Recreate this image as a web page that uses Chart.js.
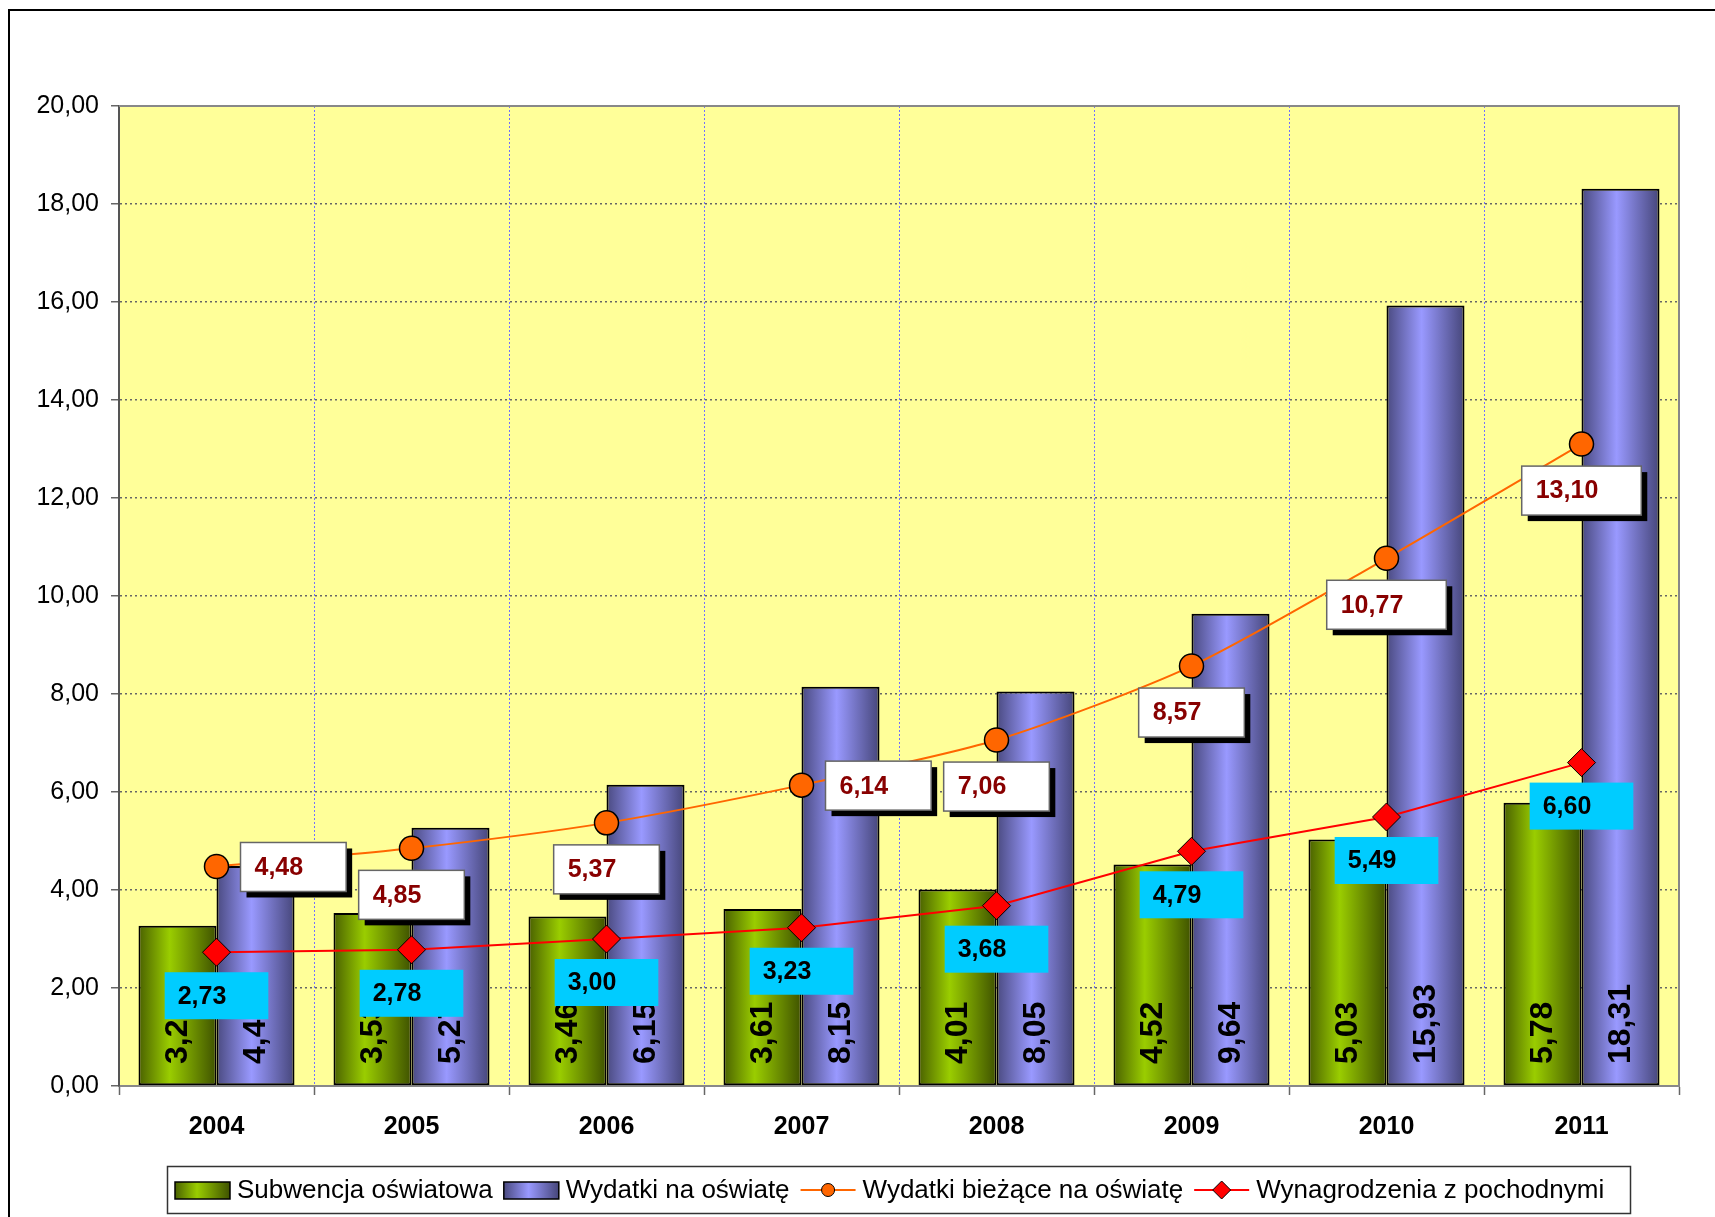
<!DOCTYPE html>
<html>
<head>
<meta charset="utf-8">
<script src="https://cdn.jsdelivr.net/npm/chart.js@4"></script>
<style>
  body { margin: 0; background: #fff; }
  canvas { display: block; }
</style>
</head>
<body>
<canvas id="chart" width="1715" height="1217"></canvas>
<script>
// Data
const years = ['2004', '2005', '2006', '2007', '2008', '2009', '2010', '2011'];
const subwencja = [3.27, 3.53, 3.46, 3.61, 4.01, 4.52, 5.03, 5.78];
const wydatki = [4.49, 5.27, 6.15, 8.15, 8.05, 9.64, 15.93, 18.31];
const wydatkiBiezace = [4.48, 4.85, 5.37, 6.14, 7.06, 8.57, 10.77, 13.10];
const wynagrodzenia = [2.73, 2.78, 3.00, 3.23, 3.68, 4.79, 5.49, 6.60];
const yTickValues = [0, 2, 4, 6, 8, 10, 12, 14, 16, 18, 20];
const seriesNames = ['Subwencja oświatowa', 'Wydatki na oświatę', 'Wydatki bieżące na oświatę', 'Wynagrodzenia z pochodnymi'];

// where the white label box sits relative to its point
const biezaceLabelSide = ['right', 'below', 'below', 'right', 'below', 'below', 'below', 'below'];

const FONT = '"Liberation Sans", Arial, sans-serif';
const greenStops = [[0, '#4a6100'], [0.4, '#9acd00'], [1, '#3f5200']];
const blueStops = [[0, '#4a4a80'], [0.45, '#9999ff'], [1, '#46467a']];

const fmt = v => v.toFixed(2).replace('.', ',');

function hGradient(ctx, x0, x1, stops) {
    const g = ctx.createLinearGradient(x0, 0, x1, 0);
    stops.forEach(s => g.addColorStop(s[0], s[1]));
    return g;
}

// Background, frame, plot area
const backgroundPlugin = {
    id: 'background',
    beforeDraw(chart) {
        const { ctx, chartArea } = chart;
        ctx.save();
        ctx.fillStyle = '#fff';
        ctx.fillRect(0, 0, chart.width, chart.height);
        ctx.strokeStyle = '#000';
        ctx.lineWidth = 2;
        ctx.strokeRect(9, 10, 1800, 1400);
        ctx.fillStyle = '#ffff99';
        ctx.fillRect(chartArea.left, chartArea.top, chartArea.right - chartArea.left, chartArea.bottom - chartArea.top);
        ctx.restore();
    },
    beforeDatasetsDraw(chart) {
        const { ctx, chartArea } = chart;
        ctx.save();
        ctx.strokeStyle = '#888';
        ctx.lineWidth = 2;
        ctx.beginPath();
        ctx.moveTo(chartArea.left, chartArea.top);
        ctx.lineTo(chartArea.right, chartArea.top);
        ctx.lineTo(chartArea.right, chartArea.bottom);
        ctx.stroke();
        ctx.restore();
    }
};

// Cylinder-like shading of bars
const barShadePlugin = {
    id: 'barShade',
    beforeDatasetDraw(chart, args) {
        if (args.index > 1) return;
        const stops = args.index === 0 ? greenStops : blueStops;
        args.meta.data.forEach(bar => {
            const half = bar.width / 2;
            bar.options = Object.assign({}, bar.options, {
                backgroundColor: hGradient(chart.ctx, bar.x - half, bar.x + half, stops)
            });
        });
    }
};

// Data labels
const labelsPlugin = {
    id: 'valueLabels',
    afterDatasetsDraw(chart) {
        const ctx = chart.ctx;
        const base = chart.scales.y.getPixelForValue(0);
        ctx.save();
        ctx.textBaseline = 'middle';
        ctx.textAlign = 'left';

        // values inside bars, rotated
        ctx.font = 'bold 32px ' + FONT;
        ctx.fillStyle = '#000';
        [0, 1].forEach(di => {
            chart.getDatasetMeta(di).data.forEach((bar, i) => {
                ctx.save();
                ctx.translate(bar.x + 1, base - 22);
                ctx.rotate(-Math.PI / 2);
                ctx.fillText(fmt(chart.data.datasets[di].data[i]), 0, 0);
                ctx.restore();
            });
        });

        // white boxes with shadow for current expenditure
        ctx.font = 'bold 25px ' + FONT;
        chart.getDatasetMeta(2).data.forEach((pt, i) => {
            const text = fmt(wydatkiBiezace[i]);
            const w = ctx.measureText(text).width + 57;
            const h = 49;
            let bx, by;
            if (biezaceLabelSide[i] === 'right') {
                bx = pt.x + 24;
                by = pt.y - 24;
            } else {
                bx = pt.x - w / 2;
                by = pt.y + 22;
            }
            ctx.fillStyle = '#000';
            ctx.fillRect(bx + 6, by + 6, w, h);
            ctx.fillStyle = '#fff';
            ctx.fillRect(bx, by, w, h);
            ctx.strokeStyle = '#666';
            ctx.lineWidth = 1.5;
            ctx.strokeRect(bx, by, w, h);
            ctx.fillStyle = '#880000';
            ctx.fillText(text, bx + 14, by + h / 2 + 1);
        });

        // cyan boxes for salaries
        chart.getDatasetMeta(3).data.forEach((pt, i) => {
            const text = fmt(wynagrodzenia[i]);
            const w = ctx.measureText(text).width + 55;
            const h = 47;
            const bx = pt.x - w / 2;
            const by = pt.y + 20;
            ctx.fillStyle = '#00ccff';
            ctx.fillRect(bx, by, w, h);
            ctx.fillStyle = '#000';
            ctx.fillText(text, bx + 13, by + h / 2 + 1);
        });
        ctx.restore();
    }
};

// Legend in a framed box
const legendPlugin = {
    id: 'boxLegend',
    afterDraw(chart) {
        const ctx = chart.ctx;
        ctx.save();
        ctx.strokeStyle = '#333';
        ctx.lineWidth = 1.5;
        ctx.strokeRect(167.5, 1166.5, 1463, 47);
        const cy = 1190;
        ctx.font = '26px ' + FONT;
        ctx.textBaseline = 'middle';
        let x = 175;
        seriesNames.forEach((name, i) => {
            if (i < 2) {
                ctx.fillStyle = hGradient(ctx, x, x + 55, i === 0 ? greenStops : blueStops);
                ctx.fillRect(x, cy - 8, 55, 17);
                ctx.strokeStyle = '#000';
                ctx.lineWidth = 1.5;
                ctx.strokeRect(x, cy - 8, 55, 17);
            } else {
                const col = i === 2 ? '#ff6600' : '#ff0000';
                ctx.strokeStyle = col;
                ctx.lineWidth = 2;
                ctx.beginPath();
                ctx.moveTo(x, cy);
                ctx.lineTo(x + 55, cy);
                ctx.stroke();
                ctx.fillStyle = col;
                ctx.strokeStyle = '#000';
                ctx.lineWidth = 1;
                ctx.beginPath();
                if (i === 2) {
                    ctx.arc(x + 27.5, cy, 6.5, 0, Math.PI * 2);
                } else {
                    ctx.moveTo(x + 27.5, cy - 9);
                    ctx.lineTo(x + 36.5, cy);
                    ctx.lineTo(x + 27.5, cy + 9);
                    ctx.lineTo(x + 18.5, cy);
                    ctx.closePath();
                }
                ctx.fill();
                ctx.stroke();
            }
            ctx.fillStyle = '#000';
            ctx.fillText(name, x + 62, cy + 1);
            x += 62 + ctx.measureText(name).width + 11;
        });
        ctx.restore();
    }
};

Chart.defaults.font.family = FONT;

const chart = new Chart(document.getElementById('chart'), {
    type: 'bar',
    data: {
        labels: years,
        datasets: [{
            label: seriesNames[0],
            data: subwencja,
            backgroundColor: '#99cc00',
            borderColor: '#000',
            borderWidth: 2,
            borderSkipped: false,
            categoryPercentage: 0.8,
            barPercentage: 1.0,
            order: 2
        }, {
            label: seriesNames[1],
            data: wydatki,
            backgroundColor: '#9999ff',
            borderColor: '#000',
            borderWidth: 2,
            borderSkipped: false,
            categoryPercentage: 0.8,
            barPercentage: 1.0,
            order: 2
        }, {
            type: 'line',
            label: seriesNames[2],
            data: wydatkiBiezace,
            borderColor: '#ff6600',
            borderWidth: 2,
            tension: 0.25,
            pointRadius: 12,
            pointBackgroundColor: '#ff6600',
            pointBorderColor: '#000',
            pointBorderWidth: 1.5,
            order: 1
        }, {
            type: 'line',
            label: seriesNames[3],
            data: wynagrodzenia,
            borderColor: '#ff0000',
            borderWidth: 2,
            tension: 0,
            pointStyle: 'rectRot',
            pointRadius: 14,
            pointBackgroundColor: '#ff0000',
            pointBorderColor: '#000',
            pointBorderWidth: 1,
            order: 0
        }]
    },
    options: {
        responsive: false,
        animation: false,
        layout: {
            padding: { top: 106, right: 36, bottom: 81, left: 0 }
        },
        plugins: {
            legend: { display: false },
            tooltip: { enabled: false }
        },
        scales: {
            x: {
                grid: {
                    offset: true,
                    color: '#7070ff',
                    lineWidth: 1,
                    tickLength: 9,
                    tickColor: '#666',
                    tickWidth: 1.5,
                    tickBorderDash: []
                },
                border: { color: '#888', width: 2, dash: [2, 2] },
                ticks: {
                    color: '#000',
                    font: { size: 25, weight: 'bold' },
                    padding: 17,
                    maxRotation: 0
                },
                afterFit: scale => { scale.height = 50; }
            },
            y: {
                min: 0,
                max: 20,
                afterBuildTicks: scale => {
                    scale.ticks = yTickValues.map(v => ({ value: v }));
                },
                grid: {
                    color: '#666',
                    lineWidth: 1.5,
                    tickLength: 8,
                    tickColor: '#666',
                    tickWidth: 1.5,
                    tickBorderDash: []
                },
                border: { color: '#555', width: 2, dash: [2, 3] },
                ticks: {
                    color: '#000',
                    font: { size: 25 },
                    padding: 12,
                    callback: v => fmt(v)
                },
                afterFit: scale => { scale.width = 119; }
            }
        }
    },
    plugins: [backgroundPlugin, barShadePlugin, labelsPlugin, legendPlugin]
});
</script>
</body>
</html>
